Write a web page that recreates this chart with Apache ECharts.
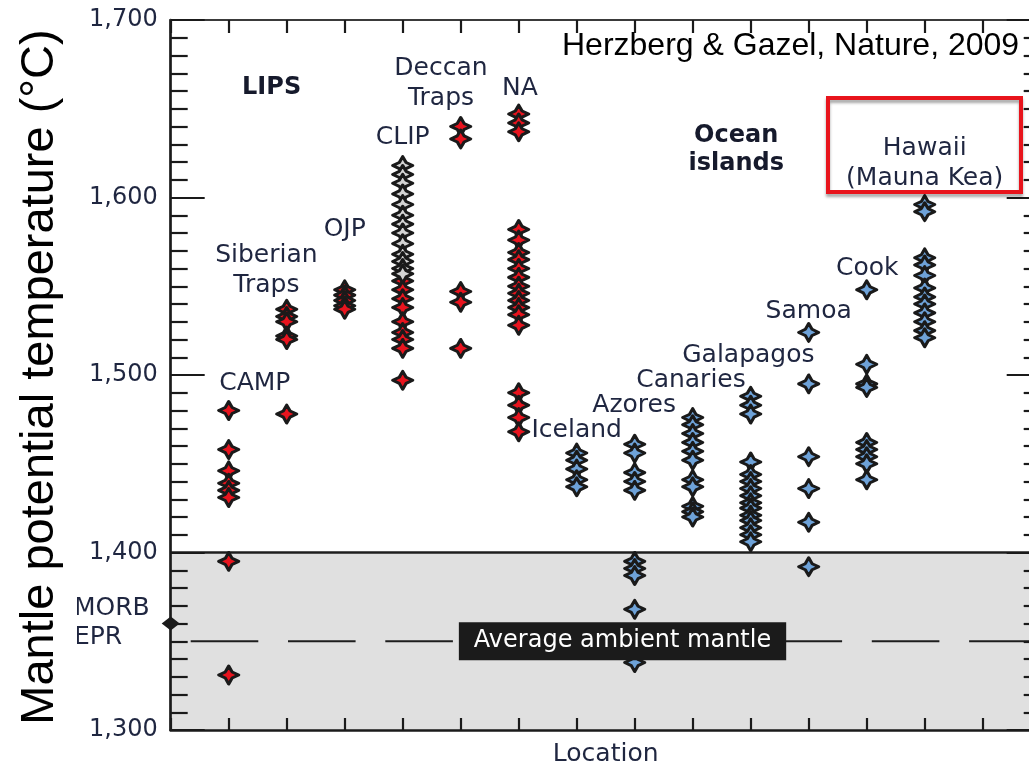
<!DOCTYPE html>
<html>
<head>
<meta charset="utf-8">
<script src="https://cdn.jsdelivr.net/npm/echarts@6/dist/echarts.min.js"></script>
<style>
html,body{margin:0;padding:0;background:#fff;}
#chart{width:1029px;height:766px;}
</style>
</head>
<body>
<div id="chart"></div>
<script>
// ---- Data (mantle potential temperature, °C) ----
const categories = ['CAMP','Siberian Traps','OJP','CLIP','Deccan Traps','NA','Iceland','Azores','Canaries','Galapagos','Samoa','Cook','Hawaii (Mauna Kea)'];
const yTicks = [1300, 1400, 1500, 1600, 1700];

// LIPs (red)
const camp      = [1480, 1458, 1446, 1439, 1435, 1431, 1395, 1331];
const siberian  = [1537, 1533, 1530, 1522, 1520, 1478];
const ojp       = [1548, 1545, 1542, 1539, 1537];
const clipGray  = [1618, 1613, 1608, 1602, 1596, 1590, 1585, 1580, 1574, 1568, 1564, 1560, 1557];
const clipRed   = [1553, 1548, 1543, 1538, 1530, 1524, 1520, 1515, 1497];
const deccan    = [1640, 1633, 1547, 1541, 1515];
const na        = [1647, 1642, 1637, 1582, 1576, 1569, 1565, 1560, 1555, 1550, 1546, 1542, 1538, 1534, 1528, 1490, 1483, 1476, 1468];

// Ocean islands (blue)
const iceland   = [1456, 1452, 1447, 1441, 1437];
const azores    = [1461, 1456, 1445, 1440, 1435, 1395, 1391, 1387, 1368, 1338];
const canaries  = [1476, 1472, 1467, 1462, 1457, 1452, 1441, 1437, 1426, 1423, 1420];
const galapagos = [1488, 1483, 1478, 1451, 1444, 1440, 1436, 1432, 1428, 1425, 1421, 1418, 1414, 1410, 1406];
const samoa     = [1524, 1495, 1454, 1436, 1417, 1392];
const cook      = [1548, 1506, 1495, 1493, 1462, 1458, 1454, 1450, 1441];
const hawaii    = [1596, 1592, 1566, 1562, 1556, 1549, 1544, 1540, 1535, 1530, 1525, 1521];

const morbEpr = 1360;          // MORB / EPR marker
const ambientMantle = 1350;    // average ambient mantle
const ambientBand = [1300, 1400];

// label texts and their anchors in data space [location, temperature]
const labelTexts   = ['CAMP','Siberian\nTraps','OJP','CLIP','Deccan\nTraps','NA','Iceland','Azores','Canaries','Galapagos','Samoa','Cook','Hawaii\n(Mauna Kea)'];
const labelAnchors = [[1.45,1495],[1.65,1559],[3.0,1582],[4.0,1634],[4.66,1664],[6.02,1661.5],[7.0,1469],[7.99,1483],[8.97,1497],[9.96,1511],[11.0,1536],[12.01,1560],[13.0,1619]];
const groupTexts   = ['LIPS','Ocean\nislands'];
const groupAnchors = [[1.74,1662],[9.75,1627]];

// ---- build ----
function pts(vals, xi){ return vals.map(v => [xi, v]); }
const redData  = [].concat(pts(camp,1), pts(siberian,2), pts(ojp,3), pts(clipRed,4), pts(deccan,5), pts(na,6));
const grayData = pts(clipGray,4);
const blueData = [].concat(pts(iceland,7), pts(azores,8), pts(canaries,9), pts(galapagos,10), pts(samoa,11), pts(cook,12), pts(hawaii,13));

const STAR = 'path://M10,0 L13.4,6.6 L20,10 L13.4,13.4 L10,20 L6.6,13.4 L0,10 L6.6,6.6 Z';
const FONT = 'DejaVu Sans';
const TXT = '#1f2640';
const AX = '#1a1a1a';

function markerSeries(name, data, fill){
  return {
    name, type:'scatter', data, z:5, clip:false,
    symbol: STAR, symbolSize:[20,18],
    itemStyle:{color:fill, borderColor:'#1a1a1a', borderWidth:3, borderJoin:'round', opacity:1},
    emphasis:{disabled:true}
  };
}

function axisCommon(){
  return {
    z:10,
    axisLine:{show:true, onZero:false, lineStyle:{color:AX, width:2.7}},
    splitLine:{show:false}
  };
}

const chart = echarts.init(document.getElementById('chart'), null, {renderer:'canvas'});
chart.setOption({
  animation:false,
  backgroundColor:'#fff',
  grid:{left:170.7, right:-11.7, top:20, bottom:36, outerBoundsMode:'none', containLabel:false},
  xAxis:[Object.assign(axisCommon(), {
    type:'value', min:0, max:15, interval:1, position:'bottom',
    name:'Location', nameLocation:'middle', nameGap:12,
    nameTextStyle:{fontFamily:FONT, fontSize:25, color:TXT},
    axisTick:{show:true, inside:true, length:12, lineStyle:{color:AX, width:2.2}},
    axisLabel:{show:false}
  }), Object.assign(axisCommon(), {
    type:'value', min:0, max:15, interval:1, position:'top',
    axisLine:{show:true, onZero:false, lineStyle:{color:'#3a3a3a', width:2}},
    axisTick:{show:true, inside:true, length:13, lineStyle:{color:AX, width:2.2}},
    axisLabel:{show:false}
  })],
  yAxis:[Object.assign(axisCommon(), {
    type:'value', min:yTicks[0], max:yTicks[yTicks.length-1], interval:100, position:'left',
    axisTick:{show:true, inside:true, length:34, lineStyle:{color:AX, width:2.2}},
    minorTick:{show:true, splitNumber:10, length:17, lineStyle:{color:AX, width:2.2}},
    axisLabel:{show:true, margin:13, fontFamily:FONT, fontSize:24, color:TXT,
      formatter:v => v.toLocaleString('en-US')}
  }), Object.assign(axisCommon(), {
    type:'value', min:yTicks[0], max:yTicks[yTicks.length-1], interval:100, position:'right',
    axisTick:{show:true, inside:true, length:34, lineStyle:{color:AX, width:2.2}},
    minorTick:{show:true, splitNumber:10, length:17, lineStyle:{color:AX, width:2.2}},
    axisLabel:{show:false}
  })],
  series:[
    {
      name:'band', type:'scatter', data:[], z:1,
      markArea:{silent:true, itemStyle:{color:'#e0e0e0', opacity:1},
        data:[[{yAxis:ambientBand[0]},{yAxis:ambientBand[1]}]]},
      markLine:{silent:true, symbol:'none', label:{show:false},
        lineStyle:{color:'#1e1e1e', width:2.6, type:'solid', opacity:1},
        data:[{yAxis:ambientBand[1]}]}
    },
    {
      name:'ambient', type:'line', data:[[0,ambientMantle],[15,ambientMantle]], z:2,
      symbol:'none', silent:true,
      lineStyle:{color:'#1e1e1e', width:2.2, type:[67.6,29.7], dashOffset:77.3}
    },
    markerSeries('LIPs', redData, '#e8141e'),
    markerSeries('CLIP', grayData, '#d4d4d4'),
    markerSeries('Ocean islands', blueData, '#6ea2d8'),
    {
      name:'MORB', type:'scatter', data:[[0,morbEpr]], z:11, clip:false,
      symbol:'diamond', symbolSize:[18,14], itemStyle:{color:'#1a1a1a', opacity:1}
    },
    {
      name:'labels', type:'scatter', z:7, clip:false, silent:true,
      symbolSize:1, itemStyle:{color:'rgba(0,0,0,0)', opacity:1},
      data: labelTexts.map((t,i) => ({name:t, value:labelAnchors[i]})),
      label:{show:true, position:'inside', formatter:'{b}', align:'center', verticalAlign:'middle',
        fontFamily:FONT, fontSize:25, lineHeight:30, color:TXT}
    },
    {
      name:'groups', type:'scatter', z:7, clip:false, silent:true,
      symbolSize:1, itemStyle:{color:'rgba(0,0,0,0)', opacity:1},
      data: groupTexts.map((t,i) => ({name:t, value:groupAnchors[i]})),
      label:{show:true, position:'inside', formatter:'{b}', align:'center', verticalAlign:'middle',
        fontFamily:FONT, fontSize:24, fontWeight:'bold', lineHeight:28, color:'#161a2c'}
    },
    {
      name:'ambientLabel', type:'scatter', z:8, clip:false, silent:true,
      symbolSize:1, itemStyle:{color:'rgba(0,0,0,0)', opacity:1},
      data:[{name:'Average ambient mantle', value:[7.79, ambientMantle]}],
      label:{show:true, position:'inside', formatter:'{b}', align:'center', verticalAlign:'middle',
        fontFamily:FONT, fontSize:24, lineHeight:28, color:'#ffffff',
        backgroundColor:'#1b1b1b', padding:[5,15,5,15]}
    }
  ],
  graphic:[
    {type:'text', x:74, y:608, z:10, style:{text:'MORB', font:'25px "DejaVu Sans"', fill:TXT, textAlign:'left', textVerticalAlign:'middle'}},
    {type:'text', x:74, y:637, z:10, style:{text:'EPR', font:'25px "DejaVu Sans"', fill:TXT, textAlign:'left', textVerticalAlign:'middle'}},
    {type:'rect', z:11, shape:{x:0, y:0, width:77, height:766}, style:{fill:'#ffffff'}},
    {type:'text', x:40, y:377, rotation:Math.PI/2, z:12,
      style:{text:'Mantle potential temperature (°C)', font:'47px "Liberation Sans"', fill:'#000', textAlign:'center', textVerticalAlign:'middle'}},
    {type:'text', x:562, y:46, z:12,
      style:{text:'Herzberg & Gazel, Nature, 2009', font:'32px "Liberation Sans"', fill:'#000', textAlign:'left', textVerticalAlign:'middle'}},
    {type:'rect', z:12, shape:{x:828, y:98, width:193, height:94},
      style:{fill:'rgba(0,0,0,0)', stroke:'#e8141c', lineWidth:4, shadowColor:'rgba(0,0,0,0.35)', shadowBlur:3, shadowOffsetY:3}}
  ]
});
</script>
</body>
</html>
